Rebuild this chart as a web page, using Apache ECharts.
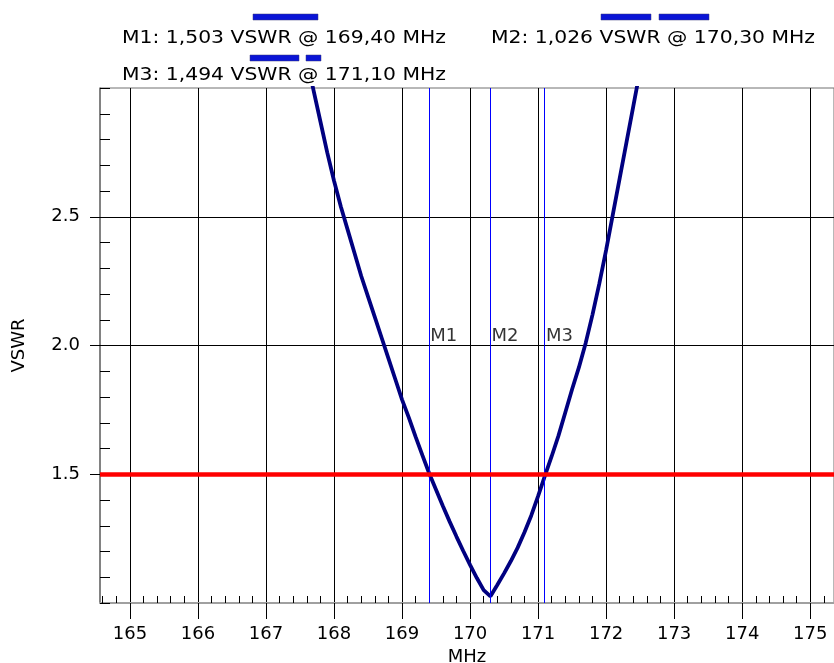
<!DOCTYPE html>
<html>
<head>
<meta charset="utf-8">
<script src="https://cdn.jsdelivr.net/npm/echarts@6/dist/echarts.min.js"></script>
<style>
html,body{margin:0;padding:0;background:#fff;}
#chart{width:834px;height:663px;}
</style>
</head>
<body>
<div id="chart"></div>
<script>
// ---- data ----
const freqMHz = [167.6,167.7,167.8,167.9,168.0,168.1,168.2,168.3,168.4,168.5,
                 168.6,168.7,168.8,168.9,169.0,169.1,169.2,169.3,169.4,169.5,
                 169.6,169.7,169.8,169.9,170.0,170.1,170.2,170.3,170.4,170.5,
                 170.6,170.7,170.8,170.9,171.0,171.1,171.2,171.3,171.4,171.5,
                 171.6,171.7,171.8,171.9,172.0,172.1,172.2,172.3,172.4,172.5];
const vswr = [3.11,2.99,2.87,2.75,2.64,2.54,2.45,2.36,2.27,2.19,
              2.11,2.03,1.95,1.87,1.79,1.72,1.645,1.573,1.503,1.44,
              1.377,1.316,1.258,1.202,1.148,1.097,1.05,1.026,1.07,1.115,
              1.163,1.215,1.275,1.34,1.415,1.494,1.57,1.65,1.74,1.83,
              1.915,2.01,2.12,2.24,2.37,2.51,2.65,2.79,2.93,3.07];
const markerNames = ['M1','M2','M3'];
const markerFreq = [169.40,170.30,171.10];
const markerVswr = [1.503,1.026,1.494];
const markerLabelLevel = 2.0;
const limitVswr = 1.5;
const xTickLabels = [165,166,167,168,169,170,171,172,173,174,175];
const yTickLabels = [1.5,2.0,2.5];
const xRange = [164.56,175.35];
const yRange = [1.0,3.0];

// minor x ticks every 0.2 MHz (not on integers)
const xMinor = [];
for (let i = Math.ceil(xRange[0]*5); i <= Math.floor(xRange[1]*5); i++) {
  if (i % 5 !== 0) xMinor.push(+(i/5).toFixed(1));
}

const FONT = 'DejaVu Sans';
const fmt = (v, d) => v.toFixed(d).replace('.', ',');
const legendText = markerNames.map((n, i) =>
  n + ': ' + fmt(markerVswr[i], 3) + ' VSWR @ ' + fmt(markerFreq[i], 2) + ' MHz');

const chart = echarts.init(document.getElementById('chart'), null, {renderer: 'canvas', devicePixelRatio: 1});

const option = {
  animation: false,
  backgroundColor: '#ffffff',
  textStyle: {fontFamily: FONT},
  grid: {left: 100, top: 88, right: 0, bottom: 60, containLabel: false, outerBoundsMode: 'none',
         show: true, borderColor: '#707070', borderWidth: 1, backgroundColor: 'transparent'},
  graphic: [
    {type: 'text', x: 122, y: 38, scaleX: 1.13, z: 10,
     style: {text: legendText[0], font: '18px "' + FONT + '"', fill: '#000', verticalAlign: 'middle', align: 'left'}},
    {type: 'text', x: 491, y: 38, scaleX: 1.13, z: 10,
     style: {text: legendText[1], font: '18px "' + FONT + '"', fill: '#000', verticalAlign: 'middle', align: 'left'}},
    {type: 'text', x: 122, y: 75, scaleX: 1.13, z: 10,
     style: {text: legendText[2], font: '18px "' + FONT + '"', fill: '#000', verticalAlign: 'middle', align: 'left'}},
    {type: 'rect', shape: {x: 253, y: 14, width: 65, height: 6}, style: {fill: '#0a14d6', stroke: '#3a3a7a', lineWidth: 0.5}},
    {type: 'rect', shape: {x: 601, y: 14, width: 50, height: 6}, style: {fill: '#0a14d6', stroke: '#3a3a7a', lineWidth: 0.5}},
    {type: 'rect', shape: {x: 659, y: 14, width: 50, height: 6}, style: {fill: '#0a14d6', stroke: '#3a3a7a', lineWidth: 0.5}},
    {type: 'rect', shape: {x: 250, y: 55, width: 49, height: 6}, style: {fill: '#0a14d6', stroke: '#3a3a7a', lineWidth: 0.5}},
    {type: 'rect', shape: {x: 306, y: 55, width: 15, height: 6}, style: {fill: '#0a14d6', stroke: '#3a3a7a', lineWidth: 0.5}}
  ],
  xAxis: [
    {
      type: 'value', gridIndex: 0, position: 'bottom',
      min: xRange[0], max: xRange[1], splitNumber: 10,
      name: 'MHz', nameLocation: 'middle', nameGap: 41,
      nameTextStyle: {fontFamily: FONT, fontSize: 18, color: '#000'},
      axisLine: {show: true, onZero: false, lineStyle: {color: '#a0a0a0', width: 2}},
      axisTick: {show: true, inside: false, length: 16, customValues: xTickLabels,
                 lineStyle: {color: '#000', width: 1}},
      axisLabel: {show: true, customValues: xTickLabels, margin: 22, fontFamily: FONT, fontSize: 18, color: '#000',
                  formatter: v => String(Math.round(v))},
      splitLine: {show: true, lineStyle: {color: '#000', width: 1}}
    },
    {
      type: 'value', gridIndex: 0, position: 'bottom',
      min: xRange[0], max: xRange[1], splitNumber: 10,
      axisLine: {show: false, onZero: false},
      axisTick: {show: true, inside: true, length: 7, customValues: xMinor,
                 lineStyle: {color: '#000', width: 1}},
      axisLabel: {show: false},
      splitLine: {show: false}
    }
  ],
  yAxis: [
    {
      type: 'value', gridIndex: 0, position: 'left',
      min: yRange[0], max: yRange[1], interval: 0.5,
      name: 'VSWR', nameLocation: 'middle', nameGap: 72, nameRotate: 90,
      nameTextStyle: {fontFamily: FONT, fontSize: 18, color: '#000'},
      axisLine: {show: true, onZero: false, lineStyle: {color: '#707070', width: 1.5}},
      axisTick: {show: true, inside: false, length: 10, customValues: yTickLabels,
                 lineStyle: {color: '#000', width: 1}},
      axisLabel: {show: true, customValues: yTickLabels, margin: 20, fontFamily: FONT, fontSize: 18, color: '#000',
                  formatter: v => v.toFixed(1)},
      splitLine: {show: true, lineStyle: {color: '#000', width: 1}}
    },
    {
      type: 'value', gridIndex: 0, position: 'left',
      min: yRange[0], max: yRange[1], interval: 0.1,
      axisLine: {show: false, onZero: false},
      axisTick: {show: true, inside: true, length: 10, lineStyle: {color: '#000', width: 1}},
      axisLabel: {show: false},
      splitLine: {show: false}
    }
  ],
  series: [
    {
      name: 'VSWR', type: 'line', xAxisIndex: 0, yAxisIndex: 0, z: 2,
      data: freqMHz.map((f, i) => [f, vswr[i]]),
      showSymbol: false, symbol: 'none', smooth: false, clip: true,
      lineStyle: {color: '#000080', width: 3.8},
      itemStyle: {color: '#000080'}
    },
    {
      name: 'MarkerLines', type: 'custom', xAxisIndex: 0, yAxisIndex: 0, z: 3, silent: true,
      data: markerFreq.map(f => [f, yRange[0]]),
      encode: {x: 0, y: 1},
      renderItem: (params, api) => {
        const top = api.coord([api.value(0), yRange[1]]);
        const bot = api.coord([api.value(0), yRange[0]]);
        const x = Math.floor(top[0]) + 0.5;
        return {type: 'line', shape: {x1: x, y1: top[1], x2: x, y2: bot[1]},
                style: {stroke: '#0000ff', lineWidth: 1}};
      }
    },
    {
      name: 'Markers', type: 'scatter', xAxisIndex: 0, yAxisIndex: 0, z: 6,
      data: markerFreq.map((f, i) => ({name: markerNames[i], value: [f, markerLabelLevel]})),
      symbolSize: 0, silent: true,
      label: {show: true, formatter: p => p.name, position: [1, 0], align: 'left', verticalAlign: 'bottom',
              fontFamily: FONT, fontSize: 18, color: '#000'}
    },
    {
      name: 'Limit', type: 'line', xAxisIndex: 0, yAxisIndex: 0, z: 4, data: [],
      markLine: {
        silent: true, symbol: ['none', 'none'], z: 4,
        label: {show: false},
        lineStyle: {color: '#ff0000', width: 4.5, type: 'solid'},
        emphasis: {disabled: true},
        data: [{yAxis: limitVswr}]
      }
    }
  ]
};
chart.setOption(option);
</script>
</body>
</html>
